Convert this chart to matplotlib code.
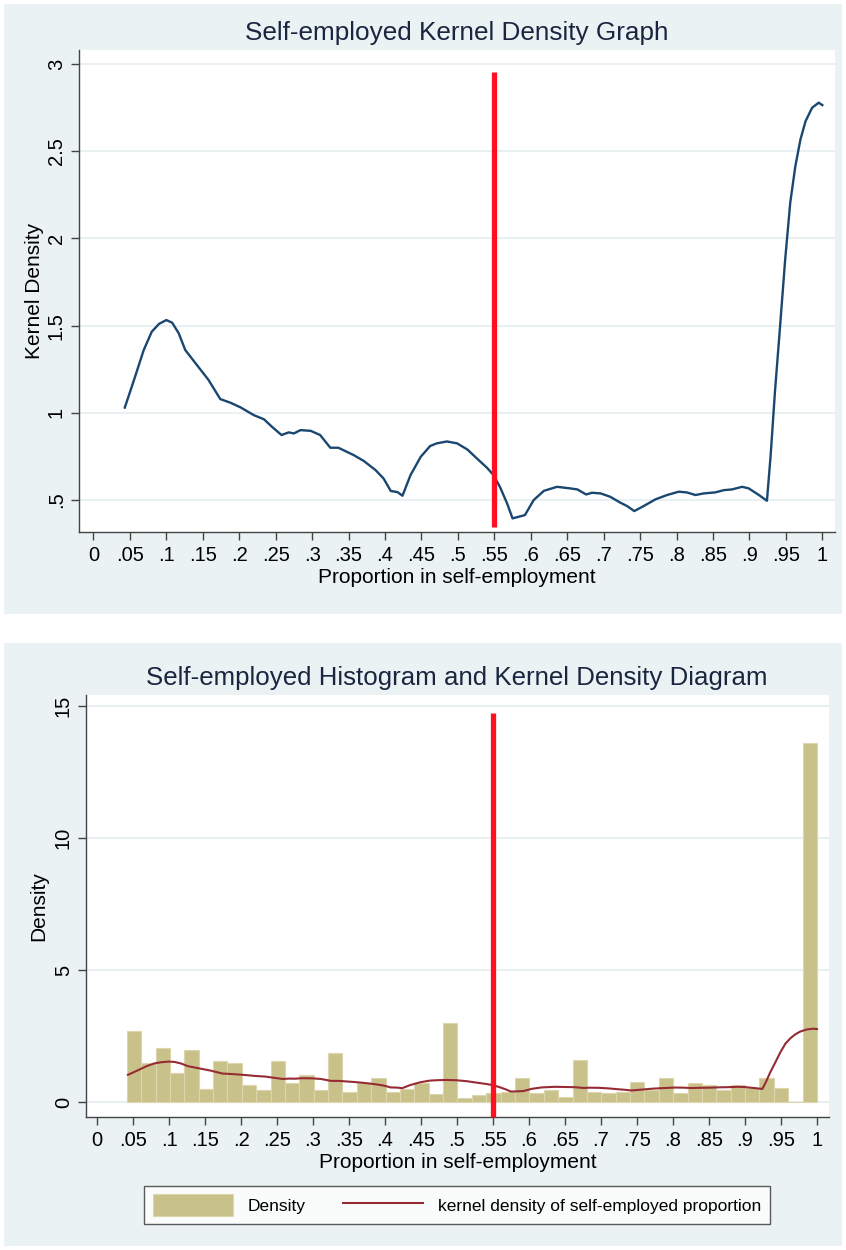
import matplotlib
matplotlib.use("Agg")
import matplotlib.pyplot as plt
from matplotlib.patches import Rectangle, Patch
from matplotlib.lines import Line2D
import numpy as np

plt.rcParams['font.family'] = ['Liberation Sans', 'DejaVu Sans']

# ---------------- data ----------------
kd_x = [0.043, 0.055, 0.069, 0.080, 0.090, 0.100, 0.108, 0.117, 0.126, 0.142,
        0.158, 0.174, 0.188, 0.202, 0.220, 0.234, 0.245, 0.258, 0.268, 0.275,
        0.284, 0.298, 0.311, 0.325, 0.336, 0.357, 0.371, 0.387, 0.398, 0.408,
        0.417, 0.424, 0.435, 0.449, 0.462, 0.471, 0.485, 0.499, 0.513, 0.526,
        0.540, 0.549, 0.558, 0.5675, 0.575, 0.592, 0.604, 0.618, 0.636, 0.654,
        0.664, 0.676, 0.684, 0.696, 0.709, 0.723, 0.732, 0.742, 0.755, 0.771,
        0.787, 0.803, 0.814, 0.826, 0.837, 0.853, 0.865, 0.876, 0.890, 0.899,
        0.913, 0.924, 0.929, 0.935, 0.942, 0.949, 0.956, 0.963, 0.970, 0.977,
        0.986, 0.995, 1.0]
kd_y = [1.03, 1.18, 1.36, 1.465, 1.51, 1.532, 1.517, 1.456, 1.36, 1.274,
        1.188, 1.079, 1.058, 1.031, 0.987, 0.963, 0.92, 0.873, 0.888, 0.882,
        0.901, 0.897, 0.873, 0.80, 0.80, 0.758, 0.724, 0.672, 0.624, 0.552,
        0.546, 0.525, 0.643, 0.748, 0.81, 0.825, 0.836, 0.825, 0.79, 0.739,
        0.685, 0.643, 0.573, 0.481, 0.395, 0.414, 0.50, 0.553, 0.576, 0.567,
        0.561, 0.532, 0.542, 0.538, 0.519, 0.485, 0.466, 0.437, 0.466, 0.504,
        0.529, 0.548, 0.544, 0.529, 0.538, 0.544, 0.557, 0.561, 0.576, 0.567,
        0.529, 0.496, 0.75, 1.12, 1.494, 1.877, 2.205, 2.414, 2.567, 2.672,
        2.749, 2.778, 2.764]

hist_start = 0.0413
hist_end = 1.0
hist_heights = [2.69, 1.47, 2.05, 1.09, 1.98, 0.50, 1.54, 1.48, 0.64, 0.44,
                1.54, 0.72, 1.02, 0.45, 1.86, 0.38, 0.71, 0.90, 0.38, 0.50,
                0.73, 0.31, 3.00, 0.14, 0.26, 0.33, 0.39, 0.90, 0.33, 0.45,
                0.18, 1.60, 0.39, 0.33, 0.39, 0.77, 0.45, 0.90, 0.33, 0.71,
                0.63, 0.45, 0.63, 0.52, 0.90, 0.52, 0.0, 13.6]

cutoff = 0.55
x_ticks = [i * 0.05 for i in range(21)]
x_ticklabels = ['0', '.05', '.1', '.15', '.2', '.25', '.3', '.35', '.4', '.45',
                '.5', '.55', '.6', '.65', '.7', '.75', '.8', '.85', '.9', '.95', '1']
top_yticks = [0.5, 1, 1.5, 2, 2.5, 3]
top_yticklabels = ['.5', '1', '1.5', '2', '2.5', '3']
bot_yticks = [0, 5, 10, 15]
bot_yticklabels = ['0', '5', '10', '15']

title_top = 'Self-employed Kernel Density Graph'
title_bot = 'Self-employed Histogram and Kernel Density Diagram'
xlabel = 'Proportion in self-employment'
ylabel_top = 'Kernel Density'
ylabel_bot = 'Density'
legend_labels = ['Density', 'kernel density of self-employed proportion']

# ---------------- style ----------------
BG = '#EAF2F3'
GRID = '#E6EFF1'
NAVY = '#1A476F'
MAROON = '#962B34'
KHAKI = '#C9C18A'
KHAKI_EDGE = '#DDD6AD'
TITLE_C = '#1A2540'
AX_C = '#444444'

W, H = 846, 1250
fig = plt.figure(figsize=(W / 100, H / 100), dpi=100)
fig.patch.set_facecolor('white')

def fx(px):
    return px / W

def fy(py):
    return 1 - py / H

# panel backgrounds
fig.patches.append(Rectangle((fx(4), fy(614)), fx(838), 610 / H, transform=fig.transFigure,
                             facecolor=BG, edgecolor='none', zorder=-10))
fig.patches.append(Rectangle((fx(4), fy(1246)), fx(838), 603 / H, transform=fig.transFigure,
                             facecolor=BG, edgecolor='none', zorder=-10))

def style_axes(ax):
    ax.set_facecolor('white')
    for s in ['top', 'right']:
        ax.spines[s].set_visible(False)
    for s in ['left', 'bottom']:
        ax.spines[s].set_color(AX_C)
        ax.spines[s].set_linewidth(1.0)
    ax.set_xticks(x_ticks)
    ax.set_xticklabels(x_ticklabels)
    ax.tick_params(axis='both', colors=AX_C, labelcolor='black', length=6, width=1.0,
                   labelsize=14.5, direction='out')
    ax.tick_params(axis='x', pad=4)
    ax.grid(axis='y', color=GRID, linewidth=1.3, zorder=0)
    ax.set_axisbelow(True)
    for lab in ax.get_yticklabels():
        lab.set_rotation(90)
        lab.set_va('center')

# ---------------- top chart ----------------
ax1 = fig.add_axes([fx(79), fy(532), fx(835 - 79), (532 - 50) / H])
ax1.set_xlim(-0.0198, 1.0174)
ax1.set_ylim(0.317, 3.08)
ax1.set_yticks(top_yticks)
ax1.set_yticklabels(top_yticklabels)
style_axes(ax1)
ax1.plot(kd_x, kd_y, color=NAVY, linewidth=1.7, zorder=3)
ax1.plot([cutoff, cutoff], [0.345, 2.954], color='#FF1020', linewidth=3.8, zorder=4,
         solid_capstyle='butt')
ax1.set_xlabel(xlabel, fontsize=15, labelpad=2)
ax1.set_ylabel(ylabel_top, fontsize=15, labelpad=2)
fig.text(fx(457), fy(33), title_top, ha='center', va='center', fontsize=18.8, color=TITLE_C)

# ---------------- bottom chart ----------------
ax2 = fig.add_axes([fx(86), fy(1117), fx(829 - 86), (1117 - 695) / H])
ax2.set_xlim(-0.0153, 1.0167)
ax2.set_ylim(-0.568, 15.42)
ax2.set_yticks(bot_yticks)
ax2.set_yticklabels(bot_yticklabels)
style_axes(ax2)
n_bins = len(hist_heights)
edges = np.linspace(hist_start, hist_end, n_bins + 1)
widths = np.diff(edges)
bars = ax2.bar(edges[:-1], hist_heights, width=widths, align='edge', color=KHAKI,
               edgecolor=KHAKI_EDGE, linewidth=0.8, zorder=2)
kline, = ax2.plot(kd_x, kd_y, color=MAROON, linewidth=1.5, zorder=3)
ax2.plot([cutoff, cutoff], [-0.568, 14.75], color='#FF1020', linewidth=3.8, zorder=4,
         solid_capstyle='butt', clip_on=False)
ax2.set_xlabel(xlabel, fontsize=15, labelpad=2)
ax2.set_ylabel(ylabel_bot, fontsize=15, labelpad=4)
fig.text(fx(457), fy(678), title_bot, ha='center', va='center', fontsize=18.6, color=TITLE_C)

handles = [Patch(facecolor=KHAKI, edgecolor=KHAKI_EDGE, linewidth=0.8),
           Line2D([0], [0], color=MAROON, linewidth=1.5)]
leg = fig.legend(handles, legend_labels, loc='center', bbox_to_anchor=(fx(457), fy(1205)),
                 ncol=2, fontsize=12.5, frameon=True, fancybox=False, edgecolor='#333333',
                 handlelength=4.6, handleheight=1.5, columnspacing=2.2, handletextpad=0.85,
                 borderpad=0.5, borderaxespad=0)
leg.get_frame().set_linewidth(1.0)
leg.get_frame().set_facecolor('white')

fig.savefig('out.png', dpi=100, facecolor='white')
